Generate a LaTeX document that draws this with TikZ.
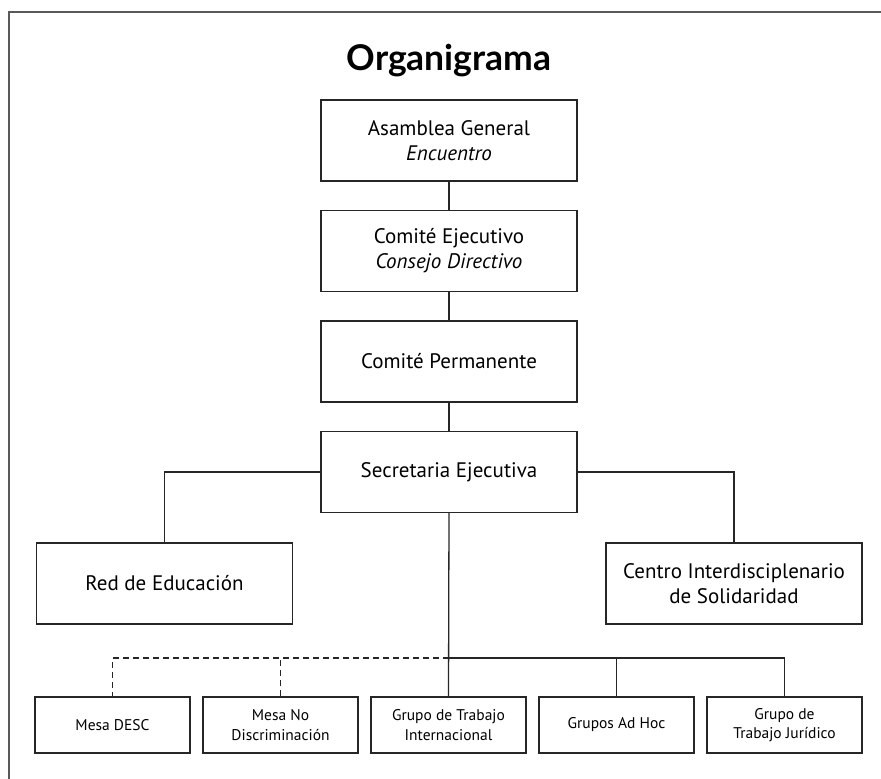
\documentclass[tikz,border=0pt]{standalone}
\usepackage{fontspec}
\setmainfont{PT Sans}
\newfontfamily\titlefont{Lato}
\begin{document}
\begin{tikzpicture}[x=1pt, y=-1pt,
    orgbox/.style={draw=black!85, line width=1.3pt, minimum width=256pt,
        minimum height=81pt, inner sep=0pt, align=center,
        font=\fontsize{21}{25}\selectfont},
    subbox/.style={draw=black!85, line width=1.3pt, minimum width=155pt,
        minimum height=56pt, inner sep=0pt, align=center,
        font=\fontsize{15.5}{19.5}\selectfont},
    link/.style={draw=black!85, line width=1.3pt},
    ]
    \useasboundingbox (0,0) rectangle (881,779);
    % frame
    \draw[black!65, line width=2pt] (881,12) -- (9,12) -- (9,779);

    \node[font=\titlefont\bfseries\fontsize{35.5}{40}\selectfont, anchor=base] (titulo) at (449,70) {Organigrama};

    % main column
    \node[orgbox] (asamblea) at (449,140.5) {Asamblea General\\\textit{Encuentro}};
    \node[orgbox] (ejecutivo) at (449,251) {Comité Ejecutivo\\\textit{Consejo Directivo}};
    \node[orgbox] (permanente) at (449,361.5) {Comité Permanente};
    \node[orgbox] (secretaria) at (449,472) {Secretaria Ejecutiva};

    \node[orgbox] (red) at (164.5,583.5) {Red de Educación};
    \node[orgbox] (centro) at (734,583.5) {Centro Interdisciplenario\\de Solidaridad};

    % bottom row
    \node[subbox] (desc) at (112.5,725) {Mesa DESC};
    \node[subbox] (nodisc) at (280.5,725) {Mesa No\\Discriminación};
    \node[subbox] (internacional) at (448.5,725) {Grupo de Trabajo\\Internacional};
    \node[subbox] (adhoc) at (616.5,725) {Grupos Ad Hoc};
    \node[subbox] (juridico) at (784.5,725) {Grupo de\\Trabajo Jurídico};

    \coordinate (bus) at (448.5,658);

    \draw[link] (asamblea) -- (ejecutivo);
    \draw[link] (ejecutivo) -- (permanente);
    \draw[link] (permanente) -- (secretaria);
    \draw[link] (secretaria.west) -| (red.north);
    \draw[link] (secretaria.east) -| (centro.north);
    \draw[link] (secretaria.south) -- (internacional.north);
    \draw[link] (bus) -| (juridico.north);
    \draw[link] (adhoc.north) -- (adhoc.north |- bus);
    \draw[link, dash pattern=on 6pt off 4pt] (bus) -| (desc.north);
    \draw[link, dash pattern=on 6pt off 4pt] (nodisc.north) -- (nodisc.north |- bus);
\end{tikzpicture}
\end{document}
